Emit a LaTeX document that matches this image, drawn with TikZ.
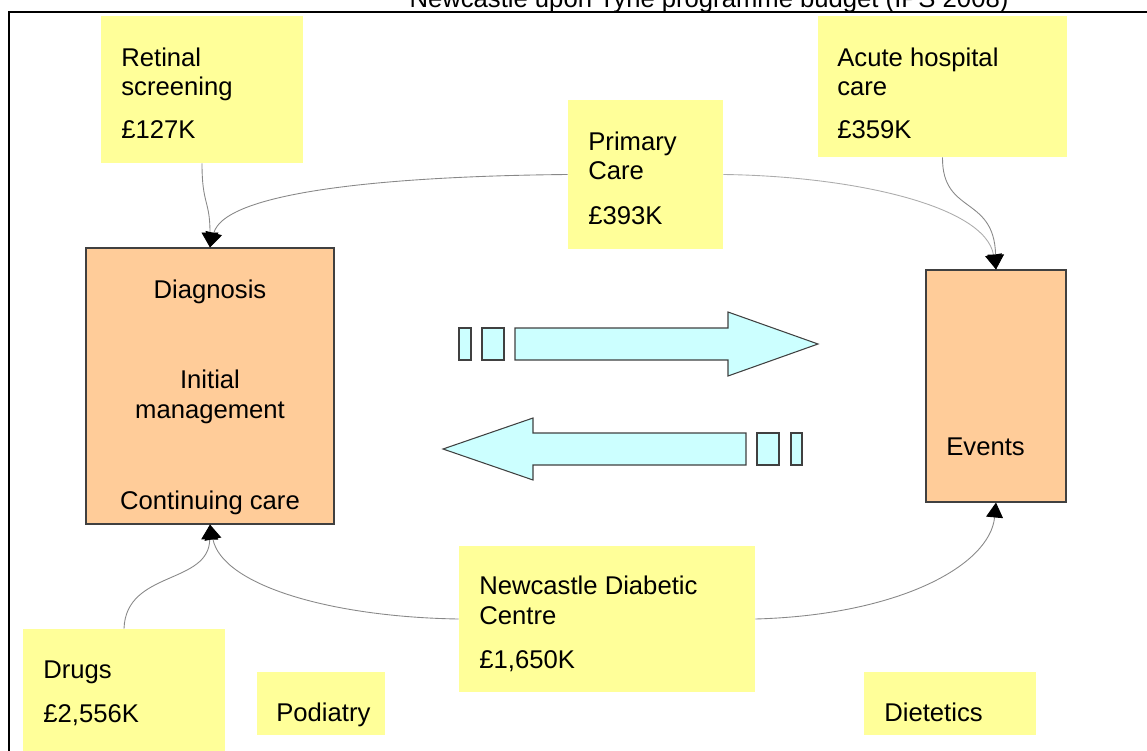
\documentclass[tikz,border=0pt]{standalone}
\usepackage{fontspec}
\setmainfont{Liberation Sans}
\usetikzlibrary{fit,arrows.meta}
\definecolor{ybox}{HTML}{FFFF99}
\definecolor{obox}{HTML}{FFCC99}
\definecolor{cbox}{HTML}{CCFFFF}
\definecolor{edge}{HTML}{404040}
\definecolor{conn}{HTML}{888888}
\begin{document}
\begin{tikzpicture}[x=0.02cm,y=-0.02cm,
  font=\fontsize{14.6}{17}\selectfont,
  yellowbox/.style={fill=ybox,draw=none,inner sep=0pt,rectangle},
  orangebox/.style={fill=obox,draw=edge,line width=0.6pt,inner sep=0pt,rectangle},
  txt/.style={anchor=base west,inner sep=0pt},
  ctxt/.style={anchor=base,inner sep=0pt},
  conline/.style={draw=conn,line width=0.5pt,-{Triangle[length=8.5pt,width=9.6pt,black]}},
  blockarrow/.style={fill=cbox,draw=edge,line width=0.6pt,line join=miter}]
\useasboundingbox (0,0) rectangle (1147,751);
% frame
\draw[line width=1.2pt] (9,770) -- (9,12) -- (1170,12);
\node[ctxt] (title) at (709,7) {Newcastle upon Tyne programme budget (IPS 2008)};
% yellow boxes
\node[yellowbox,fit={(101,16) (303,163)}] (ret) {};
\node[yellowbox,fit={(818,16) (1067,157)}] (acute) {};
\node[yellowbox,fit={(568,100) (723,249)}] (prim) {};
\node[yellowbox,fit={(459,546) (755,692)}] (ndc) {};
\node[yellowbox,fit={(23,629) (225,760)}] (drugs) {};
\node[yellowbox,fit={(257,672) (385,735)}] (pod) {};
\node[yellowbox,fit={(864,672) (1036,735)}] (diet) {};
% orange boxes
\node[orangebox,fit={(86,248) (334,524)}] (diag) {};
\node[orangebox,fit={(926,270) (1066,502)}] (events) {};
% texts
\node[txt] (t1) at (121,66) {Retinal};
\node[txt] (t2) at (121,95) {screening};
\node[txt] (t3) at (121,138) {£127K};
\node[txt] (t4) at (837,66) {Acute hospital};
\node[txt] (t5) at (837,95) {care};
\node[txt] (t6) at (837,138) {£359K};
\node[txt] (t7) at (588,150) {Primary};
\node[txt] (t8) at (588,179) {Care};
\node[txt] (t9) at (588,224) {£393K};
\node[ctxt] (t10) at (210,298) {Diagnosis};
\node[ctxt] (t11) at (210,388) {Initial};
\node[ctxt] (t12) at (210,418) {management};
\node[ctxt] (t13) at (210,509) {Continuing care};
\node[txt] (t14) at (946,455) {Events};
\node[txt] (t15) at (479,594) {Newcastle Diabetic};
\node[txt] (t16) at (479,624) {Centre};
\node[txt] (t17) at (479,668) {£1,650K};
\node[txt] (t18) at (43,678) {Drugs};
\node[txt] (t19) at (43,722) {£2,556K};
\node[txt] (t20) at (276,721) {Podiatry};
\node[txt] (t21) at (884,721) {Dietetics};
% block arrows
\draw[blockarrow] (459,328) rectangle (471,360);
\draw[blockarrow] (482,328) rectangle (504,360);
\draw[blockarrow] (515,328) -- (728,328) -- (728,312) -- (818,344) -- (728,376) -- (728,360) -- (515,360) -- cycle;
\draw[blockarrow] (791,433) rectangle (802,465);
\draw[blockarrow] (757,433) rectangle (779,465);
\draw[blockarrow] (746,433) -- (533,433) -- (533,418) -- (443,449) -- (533,480) -- (533,465) -- (746,465) -- cycle;
% connectors
\draw[conline] (ret.south) .. controls (202,205) and (210,200) .. (diag.north);
\draw[conline] (prim.west) .. controls (400,176) and (225,190) .. (diag.north);
\draw[conline,draw=conn!70] (prim.east) .. controls (850,176) and (985,205) .. (events.north);
\draw[conline] (acute.south) .. controls (942,215) and (994,195) .. (events.north);
\draw[conline] (drugs.north) .. controls (126,570) and (209,585) .. (diag.south);
\draw[conline] (ndc.west) .. controls (330,617) and (222,585) .. (diag.south);
\draw[conline] (ndc.east) .. controls (900,615) and (990,565) .. (events.south);
\end{tikzpicture}
\end{document}
